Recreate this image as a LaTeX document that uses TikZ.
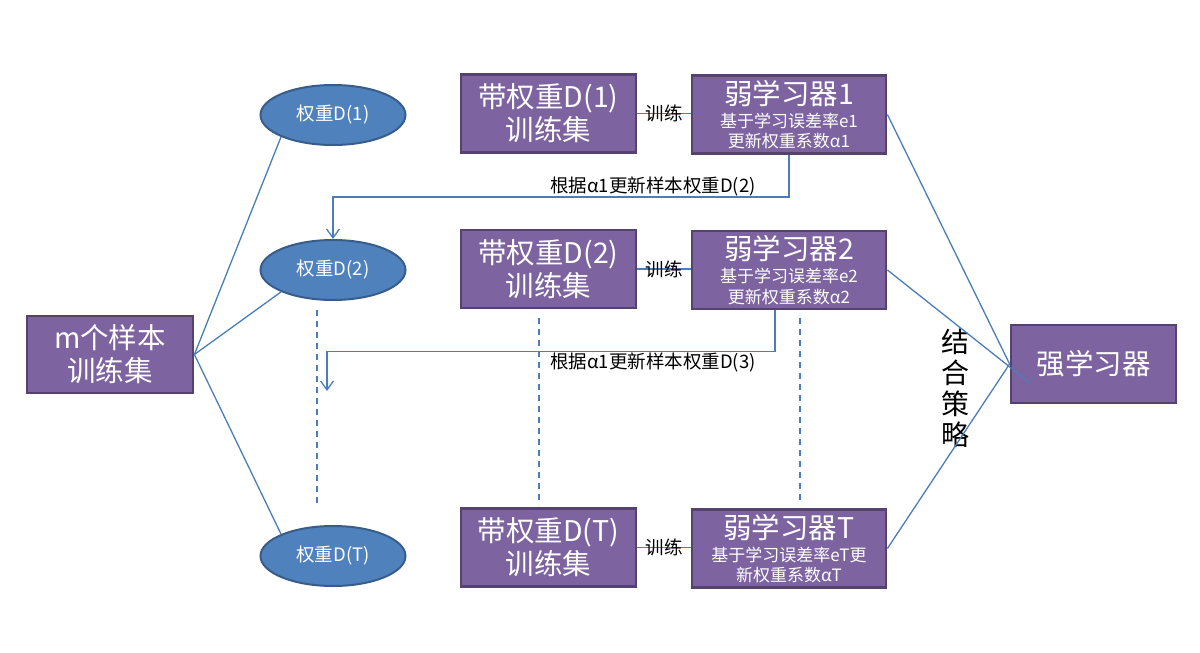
\documentclass[tikz,border=0pt]{standalone}
\usepackage{fontspec}
\setmainfont{Noto Sans CJK SC}
\usetikzlibrary{shapes.geometric,arrows.meta}
\definecolor{boxfill}{HTML}{7D64A0}
\definecolor{boxedge}{HTML}{55426F}
\definecolor{ellfill}{HTML}{4F81BD}
\definecolor{elledge}{HTML}{385D8A}
\definecolor{linkblue}{HTML}{4A7EBB}
\tikzset{every picture/.style={line width=0.75pt}}
\tikzset{
  purplebox/.style={draw=boxedge, line width=2.8pt, fill=boxfill, text=white, inner sep=0pt, align=center},
  setbox/.style={purplebox, minimum width=175pt, minimum height=78pt, font=\fontsize{28.5}{33}\selectfont},
  weakbox/.style={purplebox, minimum width=194pt, minimum height=78pt, font=\fontsize{17}{20.5}\selectfont},
  weightell/.style={ellipse, draw=elledge, line width=2pt, fill=ellfill, text=white, minimum width=145pt, minimum height=60pt, inner sep=0pt, font=\fontsize{18.5}{20}\selectfont},
  link/.style={draw=linkblue, line width=1.3pt},
  guide/.style={draw=linkblue, line width=1.3pt, dash pattern={on 6pt off 5pt}},
  lbl/.style={font=\fontsize{18.5}{20}\selectfont, text=black, inner sep=0pt}
}

\begin{document}
\begin{tikzpicture}[x=1pt,y=1pt,yscale=-1,xscale=1]
\useasboundingbox[fill=white] (0,0) rectangle (1200,653);

% Sample set and weights
\node [purplebox, minimum width=166pt, minimum height=77pt, font=\fontsize{28.5}{33}\selectfont] (mset) at (110,354.5) {m个样本\\训练集};
\node [weightell] (d1) at (333,115) {权重D(1)};
\node [weightell] (d2) at (333,270) {权重D(2)};
\node [weightell] (dT) at (333,556) {权重D(T)};

% Weighted training sets
\node [setbox] (t1) at (548.5,113.5) {带权重D(1)\\训练集};
\node [setbox] (t2) at (548.5,269) {带权重D(2)\\训练集};
\node [setbox] (tT) at (548.5,547.5) {带权重D(T)\\训练集};

% Weak learners
\node [weakbox] (w1) at (789,114.5) {{\fontsize{28.5}{30}\selectfont 弱学习器1}\\[2.5pt]基于学习误差率e1\\更新权重系数α1};
\node [weakbox] (w2) at (789,270) {{\fontsize{28.5}{30}\selectfont 弱学习器2}\\[2.5pt]基于学习误差率e2\\更新权重系数α2};
\node [weakbox] (wT) at (789,548.5) {{\fontsize{28.5}{30}\selectfont 弱学习器T}\\[2.5pt]基于学习误差率eT更\\新权重系数αT};

% Strong learner
\node [purplebox, minimum width=165pt, minimum height=78pt, font=\fontsize{28.5}{33}\selectfont] (strong) at (1093.5,364) {强学习器};
\node [lbl, font=\fontsize{28}{31}\selectfont, align=center] (combine) at (955,388) {结\\合\\策\\略};

% Set to weights
\draw [link] (mset.east) -- (d1.south west);
\draw [link] (mset.east) -- (d2.south west);
\draw [link] (mset.east) -- (dT.north west);

% Training links
\draw [link] (t1.east) -- (w1.west |- t1.east) node [lbl, midway] (tr1) {训练};
\draw [link] (t2.east) -- (w2.west |- t2.east) node [lbl, midway] (tr2) {训练};
\draw [link] (tT.east) -- (wT.west |- tT.east) node [lbl, midway] (trT) {训练};

% Weight updates
\draw [link, -{Straight Barb[length=9pt,width=13pt]}] (w1.south) -- ++(0,42) -| (d2.north);
\node [lbl] (up1) at (653,187) {根据α1更新样本权重D(2)};
\coordinate (fb2end) at (327,391);
\draw [link, -{Straight Barb[length=9pt,width=13pt]}] ([xshift=-14pt]w2.south) -- ++(0,41) -| (fb2end);
\node [lbl] (up2) at (653,363) {根据α1更新样本权重D(3)};

% Continuation guides
\coordinate (g1a) at (317,310);
\coordinate (g1b) at (317,505);
\coordinate (g2a) at (539,318);
\coordinate (g2b) at (539,505);
\coordinate (g3a) at (800,318);
\coordinate (g3b) at (800,505);
\draw [guide] (g1a) -- (g1b);
\draw [guide] (g2a) -- (g2b);
\draw [guide] (g3a) -- (g3b);

% Combination
\coordinate (w2in) at (1030,383);
\draw [link] (w1.east) -- (strong.west);
\draw [link] (w2.east) -- (w2in);
\draw [link] (wT.east) -- (strong.west);

\end{tikzpicture}
\end{document}
